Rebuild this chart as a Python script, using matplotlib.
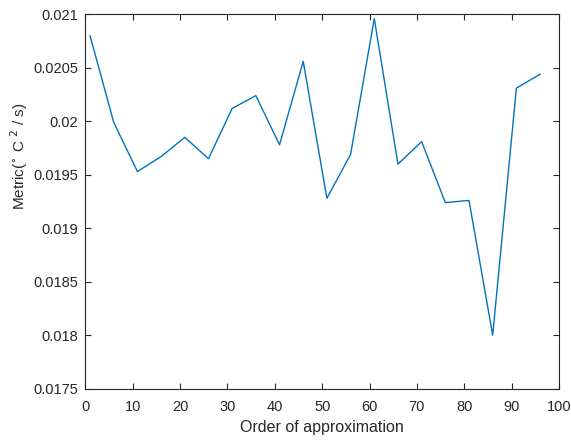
import numpy as np
import matplotlib
matplotlib.use('agg')
import matplotlib.pyplot as plt

plt.rcParams['font.family'] = ['Liberation Sans', 'DejaVu Sans']

# approximation order and metric value
order = [1, 6, 11, 16, 21, 26, 31, 36, 41, 46, 51, 56, 61, 66, 71, 76, 81, 86, 91, 96]
metric = [0.02080, 0.01999, 0.01953, 0.01967, 0.01985, 0.01965, 0.02012, 0.02024,
          0.01978, 0.02056, 0.01928, 0.01969, 0.02096, 0.01960, 0.01981, 0.01924,
          0.01926, 0.01800, 0.02031, 0.02044]

xticks = [0, 10, 20, 30, 40, 50, 60, 70, 80, 90, 100]
yticks = [0.0175, 0.018, 0.0185, 0.019, 0.0195, 0.02, 0.0205, 0.021]
ytick_labels = ['0.0175', '0.018', '0.0185', '0.019', '0.0195', '0.02', '0.0205', '0.021']

axis_col = '#262626'

fig = plt.figure(figsize=(5.71, 4.42), dpi=100)
ax = fig.add_axes([0.1494, 0.1206, 0.8296, 0.847])

ax.plot(order, metric, color='#0072BD', linewidth=1.0)

ax.set_xlim(0, 100)
ax.set_ylim(0.0175, 0.021)
ax.set_xticks(xticks)
ax.set_xticklabels([str(t) for t in xticks])
ax.set_yticks(yticks)
ax.set_yticklabels(ytick_labels)

ax.tick_params(direction='in', top=True, right=True, length=4.5, width=0.8,
               colors=axis_col, labelsize=10.5)
ax.tick_params(axis='x', pad=8)
ax.tick_params(axis='y', pad=5)
for s in ax.spines.values():
    s.set_color(axis_col)
    s.set_linewidth(0.8)

ax.set_xlabel('Order of approximation', fontsize=11.5, color=axis_col)
ax.set_ylabel(r'Metric($^{\circ}$ C $^{2}$ / s)', fontsize=11, color=axis_col)
ax.xaxis.set_label_coords(0.5, -0.084)
ax.yaxis.set_label_coords(-0.117, 0.62)

plt.savefig('out.png', dpi=100)
plt.close()
